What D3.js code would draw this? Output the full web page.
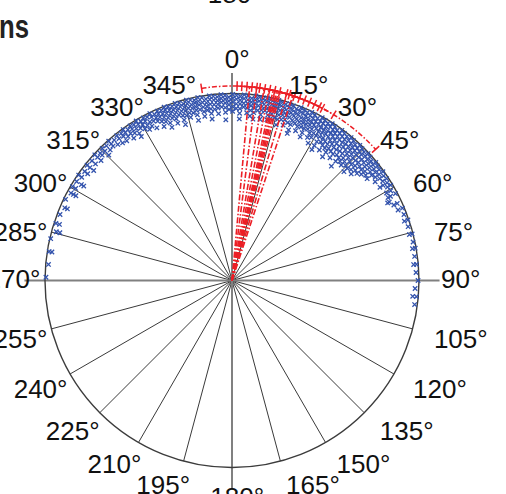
<!DOCTYPE html>
<html>
<head>
<meta charset="utf-8">
<script src="https://cdn.jsdelivr.net/npm/d3@7"></script>
<style>
  html, body { margin: 0; padding: 0; background: #fff; overflow: hidden; }
  svg { display: block; }
</style>
</head>
<body>
<svg id="chart" width="506" height="494"></svg>
<script>
// Angular grid: spokes every 15 degrees, clockwise from north
const thetaTicks = [0, 15, 30, 45, 60, 75, 90, 105, 120, 135, 150, 165,
                    180, 195, 210, 225, 240, 255, 270, 285, 300, 315, 330, 345];
const thetaLabels = ["0", "15", "30", "45", "60", "75", "90", "105", "120", "135", "150", "165",
                     "180", "195", "210", "225", "240", "255", "270", "285", "300", "315", "330", "345"];
const axisTicks = [0, 90, 180, 270];

// Observed directions: [direction in degrees, normalised radii...]
const obsStreaks = [
  [271, .995], [275, .985], [279, .99, .975], [283, .995], [285.5, .975, .955],
  [288, .99, .97], [291, .985], [293.5, .975, .96], [296, .99], [298.5, .98, .965, .95],
  [300.5, .99, .97], [302.5, .985, .955, .94], [304.5, .995, .975], [306.5, .98, .96],
  [308.5, .99, .97, .945], [310.5, .985, .96], [312.5, .995, .975, .95], [314, .98, .965],
  [315.5, .99, .97, .94], [317, .985, .955], [318.5, .995, .975, .96], [320, .98, .95],
  [321.5, .99, .97, .94],
  [323, .985, .965, .935], [324.2, .995, .975, .95], [325.4, .98, .955, .925],
  [326.6, .99, .97, .945], [327.8, .985, .96, .93, .91], [329, .995, .975, .95],
  [330.2, .98, .96, .935], [331.4, .99, .97, .945, .92], [332.6, .985, .955, .93],
  [333.8, .995, .975, .95, .91], [335, .98, .96, .94],
  [336.2, .99, .975, .955, .93, .9], [337.4, .985, .965, .945, .92],
  [338.6, .995, .98, .96, .935, .905, .88], [339.8, .99, .97, .95, .925],
  [341, .985, .965, .94, .915, .89], [342.2, .995, .975, .955, .93],
  [343.4, .99, .97, .945, .92, .895, .87], [344.6, .98, .96, .94, .915],
  [345.8, .995, .975, .95, .925, .9], [347, .99, .965, .945, .92],
  [348.2, .985, .97, .95, .93, .905, .875], [349.4, .995, .975, .955, .93],
  [350.6, .99, .965, .94, .915, .89], [351.8, .98, .96, .94, .92],
  [353, .995, .975, .95, .925, .9, .87], [354.2, .99, .97, .945, .92],
  [355.4, .985, .965, .945, .925, .895], [356.6, .995, .975, .955, .93],
  [357.8, .99, .97, .95, .925, .9, .86], [359, .98, .96, .94, .915],
  [0.2, .995, .975, .955, .93, .905], [1.4, .99, .97, .945, .92],
  [2.6, .985, .965, .945, .92, .895, .865], [3.8, .995, .975, .95, .93],
  [5, .99, .97, .95, .925, .9], [6.2, .98, .96, .94, .915, .885],
  [7.4, .995, .975, .955, .93, .905, .87], [8.6, .99, .97, .945, .92],
  [9.8, .985, .965, .945, .925, .9, .875], [11, .995, .975, .95, .925],
  [12.2, .99, .97, .95, .93, .905, .88], [13.4, .98, .96, .94, .915, .89],
  [14.6, .995, .975, .955, .93, .9], [15.8, .99, .97, .945, .92, .895, .865],
  [17, .985, .965, .945, .925, .9], [18.2, .995, .975, .95, .93, .905, .875],
  [19.4, .99, .97, .95, .925, .895], [20.6, .98, .96, .94, .915, .89, .86, .84],
  [21.8, .995, .975, .955, .93, .905], [23, .99, .97, .945, .92, .895, .87],
  [24.2, .985, .965, .945, .925, .9], [25.4, .995, .975, .95, .925, .9, .875, .85],
  [26.6, .99, .97, .95, .93, .905], [27.8, .98, .96, .94, .915, .89, .865],
  [29, .995, .975, .955, .93, .9, .875, .84], [30.2, .99, .97, .945, .92, .895],
  [31.4, .985, .965, .945, .925, .9, .87, .845, .82], [32.6, .995, .975, .95, .93, .905, .88],
  [33.8, .99, .97, .95, .925, .895, .87, .84], [35, .98, .96, .94, .915, .89, .865],
  [36.2, .995, .975, .955, .93, .905, .875, .85, .82], [37.4, .99, .97, .945, .92, .895, .87],
  [38.6, .985, .965, .945, .92, .895, .865, .84], [39.8, .995, .975, .95, .93, .9, .875],
  [41, .99, .97, .95, .925, .9, .87, .845, .81], [42.2, .98, .96, .94, .915, .885, .86],
  [43.4, .995, .975, .955, .93, .905, .875, .85], [44.6, .99, .97, .945, .92, .895, .865],
  [45.8, .985, .965, .945, .92, .89, .86, .835], [47, .995, .975, .95, .925, .9, .87],
  [48.2, .99, .97, .945, .915, .885, .855], [49.4, .98, .96, .935, .91, .88],
  [50.6, .995, .975, .95, .92, .895], [51.8, .99, .965, .94, .91],
  [53, .985, .96, .935, .905], [54.2, .995, .97, .945], [55.4, .985, .96, .93],
  [56.6, .99, .965], [57.8, .98, .955, .935], [59, .99, .97],
  [60.5, .975, .95], [62, .99, .96, .945], [63.5, .94, .93], [65, .975, .955],
  [67, .99, .965], [69, .985], [71, .975, .995], [73, .985], [75.5, .995, .98],
  [78, .99], [80, .98, .995], [82.5, .985], [85, .975, .99], [87.5, .985],
  [90, .995], [92.5, .98], [95, .97, .99], [97.5, .985]
];

// Mean directions of the individual groups (degrees)
const meanDirs = [5.2, 7.3, 9.5, 11.0, 12.2, 12.8, 13.3, 13.8, 14.4, 16.4, 18.2];

// Angular spreads drawn as capped arcs: overall first, then per group
const arcFrom = [351.0, 1.5, 2.9, 4.4, 5.9, 7.3, 8.2, 9.7, 11.2, 12.7, 14.2];
const arcTo   = [407.6, 20.3, 21.9, 23.5, 25.1, 26.7, 27.7, 31.5, 16.3, 17.2, 18.7];

const svg = d3.select("#chart");
const cx = 232, cy = 280.5, R = 187;
const FONT = "'Liberation Sans', Arial, Helvetica, sans-serif";
const BLUE = "#3353ad", RED = "#ec1f26";

const ang = d3.scaleLinear().domain([0, 360]).range([0, 2 * Math.PI]);
const rad = d3.scaleLinear().domain([0, 1]).range([0, R]);
const pt = (deg, r) => d3.pointRadial(ang(deg), rad(r));

const g = svg.append("g").attr("transform", `translate(${cx},${cy})`);

// Thin spokes
g.append("g").selectAll("line")
  .data(thetaTicks.filter(d => !axisTicks.includes(d)))
  .join("line")
  .attr("x1", 0).attr("y1", 0)
  .attr("x2", d => pt(d, 1)[0]).attr("y2", d => pt(d, 1)[1])
  .attr("stroke", "#3a3a3a").attr("stroke-width", 1);

// Main axes, extended past the rim
g.append("g").selectAll("line")
  .data(axisTicks)
  .join("line")
  .attr("x1", 0).attr("y1", 0)
  .attr("x2", d => pt(d, 1.11)[0]).attr("y2", d => pt(d, 1.11)[1])
  .attr("stroke", "#808080").attr("stroke-width", 2);

// Outer circle
g.append("circle").attr("r", rad(1))
  .attr("fill", "none").attr("stroke", "#3c3c3c").attr("stroke-width", 1.4);

// Observations as small crosses
const obs = obsStreaks.flatMap(([deg, ...rs]) => rs.map(r => ({ deg, r })));
g.append("g").selectAll("path")
  .data(obs)
  .join("path")
  .attr("transform", d => `translate(${pt(d.deg, d.r)})`)
  .attr("d", "M-2.2,-2.2L2.2,2.2M-2.2,2.2L2.2,-2.2")
  .attr("stroke", BLUE).attr("stroke-width", 1.3).attr("fill", "none");

// Mean direction rays
g.append("g").selectAll("line")
  .data(meanDirs)
  .join("line")
  .attr("x1", 0).attr("y1", 0)
  .attr("x2", d => pt(d, 1.035)[0]).attr("y2", d => pt(d, 1.035)[1])
  .attr("stroke", RED).attr("stroke-width", 1.6)
  .attr("stroke-dasharray", "6,2,1.5,2");

// Spread arcs with radial end caps
const arcR = 1.04;
const arcs = arcFrom.map((a0, i) => ({ a0, a1: arcTo[i] }));
const arcG = g.append("g").attr("stroke", RED).attr("fill", "none");
arcG.selectAll("path")
  .data(arcs)
  .join("path")
  .attr("d", d => {
    const p = d3.path();
    const s = pt(d.a0, arcR);
    p.moveTo(s[0], s[1]);
    p.arc(0, 0, rad(arcR), ang(d.a0) - Math.PI / 2, ang(d.a1) - Math.PI / 2, false);
    return p.toString();
  })
  .attr("stroke-width", 1.5)
  .attr("stroke-dasharray", "5,2,1.5,2");
arcG.selectAll("line")
  .data(arcs.flatMap(d => [d.a0, d.a1]))
  .join("line")
  .attr("x1", d => pt(d, arcR - 0.026)[0]).attr("y1", d => pt(d, arcR - 0.026)[1])
  .attr("x2", d => pt(d, arcR + 0.026)[0]).attr("y2", d => pt(d, arcR + 0.026)[1])
  .attr("stroke-width", 1.5);

// Angle labels: number aligned off the rim, degree sign appended
const FS = 26;
const labelG = svg.append("g")
  .attr("font-family", FONT).attr("font-size", FS).attr("fill", "#111");
thetaTicks.forEach((deg, i) => {
  const a = ang(deg), s = Math.sin(a), c = Math.cos(a);
  let x, y, anchor;
  if (Math.abs(s) < 1e-6) {
    anchor = "middle";
    x = cx;
    y = c > 0 ? cy - 213 : cy + 207 + 0.716 * FS;
  } else {
    anchor = s > 0 ? "start" : "end";
    // labels just either side of north sit slightly clockwise of their spoke
    const nudge = c > 0 ? Math.pow(c, 8) : 0;
    x = s > 0 ? cx + 209 * s + 4 * nudge : cx + 202 * s + 8 * nudge;
    const off = Math.abs(s) > 0.999 ? -1.5 : 5 - 2 * nudge;
    y = cy - 206 * c + off + 0.358 * FS;
  }
  const t = labelG.append("text")
    .attr("x", x).attr("y", y).attr("text-anchor", anchor)
    .text(thetaLabels[i]);
  const w = t.node().getComputedTextLength();
  const right = anchor === "start" ? x + w : anchor === "end" ? x : x + w / 2;
  labelG.append("text").attr("x", right).attr("y", y).text("°");
});

// Neighbouring panel fragments along the top
svg.append("text")
  .attr("x", 234.7).attr("y", 3).attr("text-anchor", "middle")
  .attr("font-family", FONT).attr("font-size", FS).attr("fill", "#111")
  .text("180°");
svg.append("text")
  .attr("x", -1).attr("y", 38)
  .attr("font-family", FONT).attr("font-size", 34).attr("font-weight", "bold")
  .attr("fill", "#222")
  .attr("textLength", 30).attr("lengthAdjust", "spacingAndGlyphs")
  .text("ns");
</script>
</body>
</html>
